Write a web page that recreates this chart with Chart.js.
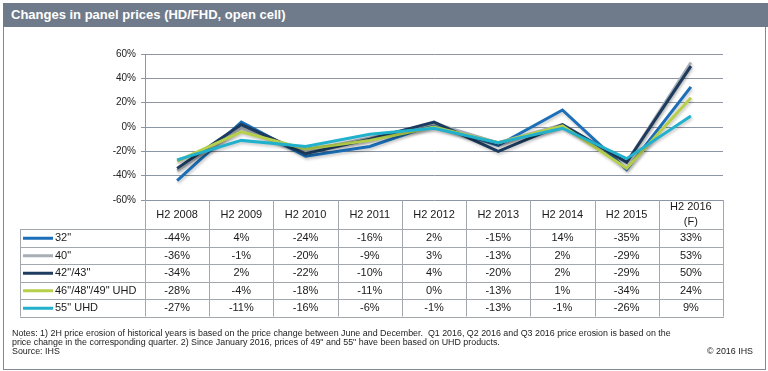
<!DOCTYPE html>
<html>
<head>
<meta charset="utf-8">
<script src="https://cdn.jsdelivr.net/npm/chart.js@4.4.1/dist/chart.umd.min.js"></script>
<style>
body { margin: 0; background: #fff; font-family: 'Liberation Sans', Arial, sans-serif; }
#wrap { position: relative; width: 768px; height: 371px; overflow: hidden; }
#panelChart { position: absolute; left: 0; top: 0; }
#titlebar {
    position: absolute; left: 3px; top: 3px; width: 765px; height: 24px;
    background: #6f7b8b; color: #fff; font-weight: bold; font-size: 13px;
    line-height: 24px; padding-left: 8px; box-sizing: border-box;
}
#frame {
    position: absolute; left: 3px; top: 27px; width: 763px; height: 343px;
    border: 1px solid #7f8a98; border-top: none; box-sizing: border-box;
}
#notes {
    position: absolute; left: 12px; top: 329px; font-size: 8.9px; line-height: 9px; color: #222;
    white-space: nowrap;
}
#copy {
    position: absolute; right: 15px; top: 347px; font-size: 8.9px; line-height: 9px; color: #222;
}
</style>
</head>
<body>
<div id="wrap">
    <canvas id="panelChart" width="768" height="371"></canvas>
    <div id="frame"></div>
    <div id="titlebar">Changes in panel prices (HD/FHD, open cell)</div>
    <div id="notes">Notes: 1) 2H price erosion of historical years is based on the price change between June and December.&nbsp; Q1 2016, Q2 2016 and Q3 2016 price erosion is based on the<br>price change in the corresponding quarter. 2) Since January 2016, prices of 49" and 55" have been based on UHD products.<br>Source: IHS</div>
    <div id="copy">© 2016 IHS</div>
</div>
<script>
const periods = ['H2 2008', 'H2 2009', 'H2 2010', 'H2 2011', 'H2 2012', 'H2 2013', 'H2 2014', 'H2 2015', ['H2 2016', '(F)']];
const seriesNames = ['32"', '40"', '42"/43"', '46"/48"/49" UHD', '55" UHD'];
const seriesColors = ['#1a6fb8', '#a8aeb5', '#1c3b5e', '#b7d04c', '#21b1cc'];

const size32 = [-44, 4, -24, -16, 2, -15, 14, -35, 33];
const size40 = [-36, -1, -20, -9, 3, -13, 2, -29, 53];
const size42 = [-34, 2, -22, -10, 4, -20, 2, -29, 50];
const size46 = [-28, -4, -18, -11, 0, -13, 1, -34, 24];
const size55 = [-27, -11, -16, -6, -1, -13, -1, -26, 9];
const seriesValues = [size32, size40, size42, size46, size55];

const yTicks = [-60, -40, -20, 0, 20, 40, 60];

const FONT = "'Liberation Sans', Arial, sans-serif";

// draws the data table under the plot, columns follow the x scale
const tablePlugin = {
    id: 'priceTable',
    afterDraw(chart) {
        const ctx = chart.ctx;
        const xs = chart.scales.x;
        const area = chart.chartArea;
        const colW = (xs.right - xs.left) / periods.length;
        const headTop = area.bottom;
        const headH = 29;
        const bodyTop = headTop + headH;
        const rowH = 17.5;
        const tableLeft = 20;
        const bottom = bodyTop + rowH * seriesNames.length;

        ctx.save();
        ctx.strokeStyle = '#a3a8ae';
        ctx.lineWidth = 1;
        ctx.beginPath();
        for (let i = 0; i <= periods.length; i++) {
            const x = Math.round(xs.left + i * colW) + 0.5;
            ctx.moveTo(x, headTop);
            ctx.lineTo(x, bottom);
        }
        ctx.moveTo(tableLeft + 0.5, bodyTop);
        ctx.lineTo(tableLeft + 0.5, bottom);
        for (let r = 0; r <= seriesNames.length; r++) {
            const y = Math.round(bodyTop + r * rowH) + 0.5;
            ctx.moveTo(tableLeft, y);
            ctx.lineTo(Math.round(xs.right) + 1, y);
        }
        ctx.stroke();

        ctx.font = '11px ' + FONT;
        ctx.textBaseline = 'middle';
        ctx.textAlign = 'center';
        ctx.fillStyle = '#1a1a1a';

        // header row: category labels
        const lineGap = 15;
        chart.data.labels.forEach((lab, i) => {
            const lines = Array.isArray(lab) ? lab : [lab];
            const x = xs.getPixelForValue(i);
            const y0 = headTop + headH / 2 - (lines.length - 1) * lineGap / 2;
            lines.forEach((t, k) => ctx.fillText(t, x, y0 + k * lineGap));
        });

        chart.data.datasets.forEach((ds, r) => {
            const cy = bodyTop + r * rowH + rowH / 2 + 0.5;
            ctx.strokeStyle = ds.borderColor;
            ctx.lineWidth = 3;
            ctx.beginPath();
            ctx.moveTo(23, cy);
            ctx.lineTo(53, cy);
            ctx.stroke();
            ctx.textAlign = 'left';
            ctx.fillText(ds.label, 55, cy);
            ctx.textAlign = 'center';
            ds.data.forEach((v, i) => {
                ctx.fillText(v + '%', xs.getPixelForValue(i), cy);
            });
        });
        ctx.restore();
    }
};

// soft shadow under the lines like the original
const shadowPlugin = {
    id: 'lineShadow',
    beforeDatasetDraw(chart) {
        const ctx = chart.ctx;
        ctx.save();
        ctx.shadowColor = 'rgba(0,0,0,0.22)';
        ctx.shadowBlur = 3;
        ctx.shadowOffsetX = 1;
        ctx.shadowOffsetY = 2;
    },
    afterDatasetDraw(chart) {
        chart.ctx.restore();
    }
};

const datasets = seriesNames.map((name, i) => ({
    label: name,
    data: seriesValues[i],
    borderColor: seriesColors[i],
    backgroundColor: seriesColors[i],
    borderWidth: 3,
    pointRadius: 0,
    tension: 0,
    fill: false,
    order: seriesNames.length - i
}));

new Chart(document.getElementById('panelChart').getContext('2d'), {
    type: 'line',
    data: { labels: periods, datasets: datasets },
    options: {
        responsive: false,
        animation: false,
        layout: { padding: { top: 54, right: 45, bottom: 142, left: 0 } },
        plugins: {
            legend: { display: false },
            tooltip: { enabled: false }
        },
        scales: {
            x: {
                offset: true,
                grid: { display: false, drawTicks: false },
                border: { display: false },
                ticks: { display: false },
                afterFit(scale) { scale.height = 29; }
            },
            y: {
                min: yTicks[0],
                max: yTicks[yTicks.length - 1],
                afterBuildTicks(scale) { scale.ticks = yTicks.map(v => ({ value: v })); },
                grid: { color: '#8b95a3', lineWidth: 1, tickLength: 4 },
                border: { color: '#8b95a3' },
                ticks: {
                    color: '#222',
                    font: { family: FONT, size: 10 },
                    padding: 5,
                    callback: v => v + '%'
                },
                afterFit(scale) { scale.width = 145; }
            }
        }
    },
    plugins: [shadowPlugin, tablePlugin]
});
</script>
</body>
</html>
